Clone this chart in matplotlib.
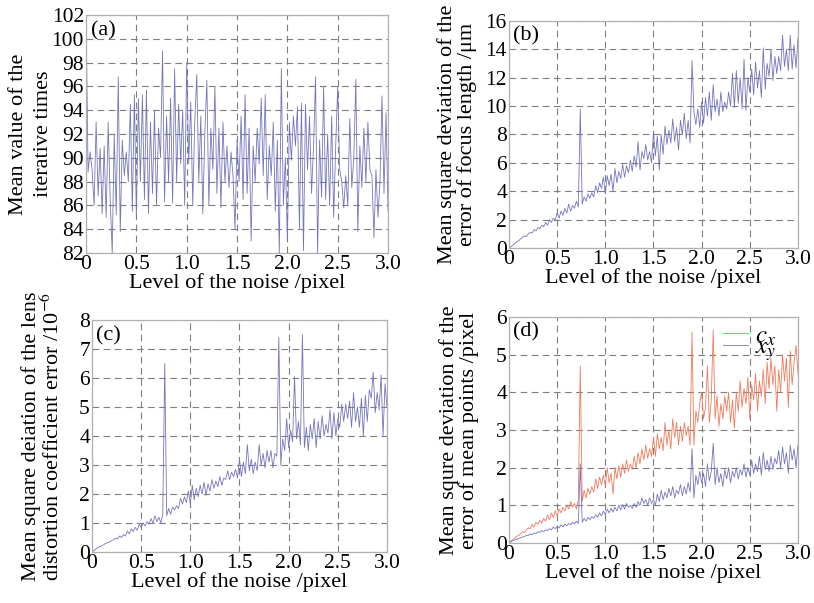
import matplotlib
matplotlib.use("Agg")
import matplotlib.pyplot as plt
import numpy as np

# noise level, step 0.02 pixel
noise = np.round(np.arange(0, 3.0001, 0.02), 2)

iter_mean = [
    102, 88.8, 90.5, 89, 86, 93, 86.8, 90.8, 85.3, 91,
    85, 93, 86.5, 82, 92, 85.2, 96.8, 83.8, 91.5, 88.5,
    90.5, 88, 94.5, 85.5, 95.3, 85, 95, 88, 95.3, 86.5,
    95.7, 85.3, 93, 87, 94, 86, 92.5, 90, 99, 86.3,
    93.5, 88, 95, 86.2, 97.5, 88, 94.5, 89.5, 94, 86,
    98, 89.5, 94.7, 86, 93, 97, 88, 93.5, 85.3, 92,
    96.5, 86, 92.5, 89, 96, 87, 92.5, 85.8, 93, 88,
    91, 87.5, 90.5, 88.5, 84, 91.5, 88, 93.5, 86.5, 95.3,
    87, 92.5, 83, 91, 88, 92.5, 89.5, 95, 88.5, 95.3,
    86.5, 91, 88.5, 93, 85.5, 91.5, 82, 97.5, 86, 90,
    83, 93, 89.8, 93.5, 91, 94.3, 84, 94.6, 82.2, 94.5,
    89, 93.5, 87, 91, 96.8, 82, 91.5, 86.7, 96, 86.5,
    92, 86, 93.5, 85, 91, 96, 89, 88, 85.8, 88.5,
    86, 93.3, 87.5, 90, 96.6, 83.8, 91, 87.5, 92.5, 88,
    93, 89, 88.5, 83.3, 89, 85, 88, 95.2, 87, 93.8,
    85.5]

focus_err = [
    0, 0.1, 0.2, 0.3, 0.45, 0.5, 0.65, 0.75, 0.85, 0.8,
    1.0, 1.1, 1.05, 1.3, 1.2, 1.45, 1.35, 1.6, 1.5, 1.8,
    1.6, 2.0, 1.8, 2.1, 1.95, 2.5, 2.1, 2.6, 2.3, 2.8,
    2.45, 3.1, 2.6, 3.0, 2.8, 3.3, 2.9, 9.8, 3.1, 3.6,
    3.3, 3.8, 3.5, 3.9, 3.6, 4.4, 3.9, 4.6, 4.2, 5.0,
    3.8, 5.1, 4.4, 5.2, 4.0, 5.6, 4.6, 5.4, 4.9, 5.9,
    5.0, 5.8, 5.3, 6.2, 5.4, 6.5, 5.7, 7.5, 5.5, 6.8,
    6.3, 7.3, 6.2, 6.8, 6.0, 8.2, 6.5, 7.9, 5.5, 8.0,
    6.6, 8.6, 7.3, 8.3, 7.4, 9.1, 7.5, 8.5, 6.9, 9.0,
    8.0, 9.5, 7.7, 9.0, 7.4, 13.2, 9.6, 8.7, 9.8, 8.5,
    10.3, 8.8, 10.6, 9.3, 11.0, 9.0, 11.5, 9.6, 10.5, 9.3,
    11.0, 9.6, 10.3, 9.8, 11.0, 10.0, 12.3, 9.9, 12.5, 10.2,
    12.0, 9.8, 13.3, 9.7, 12.0, 11.0, 12.6, 10.8, 13.1, 11.3,
    12.5, 10.6, 14.1, 11.2, 13.0, 12.1, 14.0, 11.8, 13.5, 12.3,
    13.5, 12.5, 15.0, 12.8, 14.0, 12.5, 15.0, 12.6, 14.3, 12.7,
    14.8]

distortion_err = [
    0, 0.05, 0.1, 0.15, 0.18, 0.22, 0.25, 0.3, 0.32, 0.35,
    0.4, 0.42, 0.48, 0.45, 0.55, 0.5, 0.6, 0.55, 0.72, 0.62,
    0.8, 0.7, 0.85, 0.75, 0.95, 0.85, 1.0, 0.9, 1.05, 0.95,
    1.15, 1.0, 1.25, 1.05, 1.2, 1.0, 1.3, 6.5, 1.25, 1.5,
    1.3, 1.55, 1.45, 1.6, 1.5, 1.85, 1.65, 1.9, 1.7, 2.1,
    1.65, 2.3, 1.8, 2.2, 1.9, 2.3, 2.0, 2.4, 1.95, 2.35,
    2.1, 2.5, 2.2, 2.45, 2.25, 2.6, 2.3, 2.55, 2.5, 2.8,
    2.5, 2.75, 2.6, 2.85, 2.55, 3.2, 2.6, 3.1, 2.7, 3.7,
    2.8, 3.2, 2.7, 3.1, 2.8, 3.7, 3.0, 3.4, 2.9, 3.5,
    3.1, 3.5, 2.9, 3.4, 3.3, 7.4, 3.0, 3.9, 3.5, 4.6,
    3.6, 4.2, 3.8, 6.05, 3.9, 4.5, 3.7, 7.5, 3.6, 4.3,
    3.5, 4.4, 3.9, 4.6, 3.6, 4.5, 3.9, 4.7, 4.0, 4.4,
    4.1, 4.9, 3.9, 4.8, 4.0, 4.6, 4.3, 5.1, 4.5, 5.1,
    4.6, 5.2, 4.3, 5.5, 4.5, 5.0, 4.3, 5.3, 4.0, 5.4,
    4.5, 5.6, 5.3, 6.2, 4.8, 5.5, 4.9, 6.1, 4.0, 5.8,
    5.0]

cx_err = [
    0, 0.05, 0.1, 0.12, 0.18, 0.2, 0.25, 0.3, 0.28, 0.35,
    0.4, 0.38, 0.5, 0.42, 0.55, 0.5, 0.6, 0.52, 0.65, 0.58,
    0.75, 0.62, 0.8, 0.68, 0.85, 0.72, 0.9, 0.8, 0.95, 0.85,
    1.0, 0.9, 1.1, 0.95, 1.05, 0.9, 1.15, 4.7, 1.1, 1.4,
    1.2, 1.45, 1.3, 1.5, 1.35, 1.7, 1.45, 1.75, 1.55, 1.8,
    1.5, 2.0, 1.6, 1.85, 1.3, 2.0, 1.7, 2.05, 1.75, 2.1,
    1.85, 2.2, 1.9, 2.1, 1.95, 2.3, 2.0, 2.4, 2.1, 2.5,
    2.2, 2.6, 2.25, 2.5, 2.3, 2.8, 2.3, 2.9, 2.5, 2.8,
    2.45, 3.2, 2.6, 3.0, 2.5, 3.3, 2.8, 3.2, 2.6, 3.1,
    2.7, 3.2, 2.85, 3.1, 2.6, 5.6, 2.6, 3.5, 3.2, 3.7,
    4.0, 3.3, 3.6, 4.7, 3.2, 3.8, 5.65, 3.3, 3.9, 3.1,
    3.7, 3.3, 3.9, 3.5, 4.0, 3.2, 3.8, 3.05, 4.0, 3.5,
    4.3, 3.6, 4.1, 3.7, 4.4, 3.3, 4.2, 3.8, 4.5, 3.5,
    4.3, 3.9, 4.6, 3.7, 4.8, 4.1, 4.9, 4.2, 4.7, 3.5,
    4.6, 4.0, 5.0, 4.3, 4.9, 3.6, 5.1, 4.2, 4.8, 5.25,
    4.5]

xy_err = [
    0, 0.03, 0.06, 0.08, 0.1, 0.12, 0.14, 0.16, 0.17, 0.2,
    0.2, 0.24, 0.22, 0.27, 0.25, 0.3, 0.28, 0.33, 0.3, 0.35,
    0.33, 0.38, 0.35, 0.42, 0.38, 0.45, 0.4, 0.48, 0.43, 0.5,
    0.46, 0.52, 0.48, 0.55, 0.5, 0.58, 0.52, 2.1, 0.55, 0.65,
    0.58, 0.68, 0.62, 0.7, 0.65, 0.75, 0.68, 0.8, 0.72, 0.85,
    0.75, 0.9, 0.8, 0.92, 0.82, 0.95, 0.85, 1.0, 0.88, 1.02,
    0.9, 1.05, 0.95, 1.0, 0.92, 1.05, 0.95, 1.1, 1.0, 1.2,
    1.05, 1.15, 1.0, 1.2, 1.05, 1.15, 1.0, 1.3, 1.1, 1.4,
    1.15, 1.35, 1.2, 1.45, 1.25, 1.5, 1.2, 1.4, 1.3, 1.55,
    1.25, 1.5, 1.3, 1.6, 1.35, 2.5, 1.2, 1.8, 1.55, 1.9,
    1.6, 1.85, 1.5, 2.1, 1.65, 1.9, 2.65, 1.55, 2.0, 1.6,
    1.85, 1.5, 1.95, 1.7, 2.0, 1.6, 1.9, 1.75, 2.0, 1.7,
    1.95, 1.8, 2.1, 1.75, 2.0, 1.8, 2.2, 1.85, 2.1, 1.9,
    2.3, 1.8, 2.4, 1.95, 2.2, 1.9, 2.3, 1.95, 2.25, 2.1,
    2.45, 2.0, 2.55, 2.1, 2.4, 1.85, 2.6, 2.2, 2.5, 2.0,
    2.6]

x_ticks = [0, 0.5, 1.0, 1.5, 2.0, 2.5, 3.0]
x_ticklabels = ['0', '0.5', '1.0', '1.5', '2.0', '2.5', '3.0']
xlabel = 'Level of the noise /pixel'

BLUE = '#7476bd'
RED = '#f07a5c'

plt.rcParams['font.family'] = ['Liberation Serif', 'DejaVu Serif']
plt.rcParams['mathtext.fontset'] = 'stix'

fig = plt.figure(figsize=(8.14, 6.03), dpi=100)

# left, bottom, width, height in figure fraction
boxes = {
    'a': [0.1057, 0.5804, 0.371, 0.3947],
    'b': [0.6253, 0.5887, 0.355, 0.3765],
    'c': [0.1130, 0.0846, 0.3624, 0.3847],
    'd': [0.6253, 0.0995, 0.355, 0.3748],
}


def style_axes(ax, ylim, yticks, ylabel, tag, label_x, spacing=1.0):
    ax.set_xlim(0, 3.0)
    ax.set_ylim(*ylim)
    ax.set_xticks(x_ticks)
    ax.set_xticklabels(x_ticklabels)
    ax.set_yticks(yticks)
    ax.tick_params(length=0, labelsize=15.5, pad=1.5)
    ax.grid(True, color='#7f7f7f', linestyle=(0, (6, 4)), linewidth=0.8)
    for sp in ax.spines.values():
        sp.set_color('#b0b0b0')
        sp.set_linewidth(0.9)
    ax.set_xlabel(xlabel, fontsize=16, labelpad=-1)
    ax.set_ylabel(ylabel, fontsize=16, linespacing=spacing)
    ax.yaxis.set_label_coords(label_x, 0.5)
    ax.text(0.015, 0.975, tag, transform=ax.transAxes, fontsize=16,
            va='top', ha='left')


ax = fig.add_axes(boxes['a'])
ax.plot(noise, iter_mean, color=BLUE, linewidth=0.6)
style_axes(ax, (82, 102), range(82, 103, 2),
           'Mean value of the\niterative times', '(a)', -0.11, spacing=1.45)

ax = fig.add_axes(boxes['b'])
ax.plot(noise, focus_err, color=BLUE, linewidth=0.6)
style_axes(ax, (0, 16), range(0, 17, 2),
           'Mean square deviation of the\nerror of focus length /\u03bcm',
           '(b)', -0.11)

ax = fig.add_axes(boxes['c'])
ax.plot(noise, distortion_err, color=BLUE, linewidth=0.6)
style_axes(ax, (0, 8), range(0, 9, 1),
           'Mean square deiation of the lens\n'
           'distortion coefficient error /10$^{-6}$', '(c)', -0.095)

ax = fig.add_axes(boxes['d'])
ax.plot(noise, cx_err, color=RED, linewidth=0.6, label='$c_x$')
ax.plot(noise, xy_err, color=BLUE, linewidth=0.6, label='$x_y$')
style_axes(ax, (0, 6), range(0, 7, 1),
           'Mean squre deviation of the\nerror of mean points /pixel',
           '(d)', -0.105)
leg = ax.legend(loc='upper right', frameon=False, fontsize=18,
                handlelength=1.0, labelspacing=-0.45, borderaxespad=0.0,
                handletextpad=0.3, bbox_to_anchor=(0.96, 1.01))

fig.savefig('out.png', dpi=100)
